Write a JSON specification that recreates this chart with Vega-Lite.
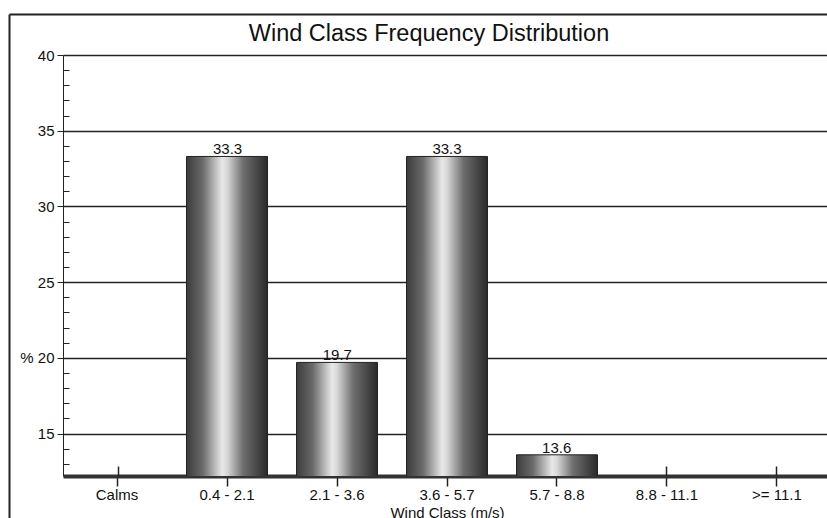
{
  "$schema": "https://vega.github.io/schema/vega-lite/v6.json",
  "autosize": "none",
  "width": 768,
  "height": 421,
  "padding": {"left": 63, "top": 55, "right": 0, "bottom": 42},
  "background": "white",
  "config": {
    "font": "Liberation Sans",
    "view": {"stroke": null},
    "axis": {"labelFont": "Liberation Sans", "titleFont": "Liberation Sans", "labelColor": "#111", "titleColor": "#111"}
  },
  "title": {
    "text": "Wind Class Frequency Distribution",
    "fontSize": 23.5,
    "fontWeight": "normal",
    "font": "Liberation Sans",
    "color": "#111",
    "anchor": "middle",
    "frame": "group",
    "dx": -18,
    "offset": -31
  },
  "data": {
    "values": [
      {"cls": "Calms", "pct": 0},
      {"cls": "0.4 - 2.1", "pct": 33.3},
      {"cls": "2.1 - 3.6", "pct": 19.7},
      {"cls": "3.6 - 5.7", "pct": 33.3},
      {"cls": "5.7 - 8.8", "pct": 13.6},
      {"cls": "8.8 - 11.1", "pct": 0},
      {"cls": ">= 11.1", "pct": 0}
    ]
  },
  "encoding": {
    "x": {
      "field": "cls",
      "type": "nominal",
      "sort": null,
      "scale": {"domain": ["Calms", "0.4 - 2.1", "2.1 - 3.6", "3.6 - 5.7", "5.7 - 8.8", "8.8 - 11.1", ">= 11.1"], "paddingInner": 0.264, "paddingOuter": 0.123}
    },
    "y": {
      "field": "pct",
      "type": "quantitative",
      "scale": {"domain": [12.2, 40], "zero": false, "nice": false}
    }
  },
  "layer": [
    {
      "transform": [{"filter": "datum.pct > 0"}],
      "mark": {
        "type": "bar",
        "clip": true,
        "stroke": "#222",
        "strokeWidth": 1,
        "fill": {
          "gradient": "linear",
          "x1": 0, "x2": 1, "y1": 0, "y2": 0,
          "stops": [
            {"offset": 0, "color": "#3c3c3c"},
            {"offset": 0.2, "color": "#6a6a6a"},
            {"offset": 0.44, "color": "#e8e8e8"},
            {"offset": 0.5, "color": "#d8d8d8"},
            {"offset": 0.7, "color": "#6e6e6e"},
            {"offset": 1, "color": "#2a2a2a"}
          ]
        }
      },
      "encoding": {
        "x": {
          "field": "cls",
          "type": "nominal",
          "sort": null,
          "axis": {
            "title": "Wind Class (m/s)",
            "titleFontSize": 15,
            "titleFontWeight": "normal",
            "titlePadding": 3,
            "labelFontSize": 15,
            "labelAngle": 0,
            "labelPadding": 1,
            "tickSize": 10,
            "tickColor": "#222",
            "tickWidth": 1.5,
            "domainColor": "#333",
            "domainWidth": 4,
            "grid": false
          }
        },
        "y": {
          "field": "pct",
          "type": "quantitative",
          "axis": {
            "title": null,
            "values": [15, 20, 25, 30, 35, 40],
            "labelExpr": "datum.value == 20 ? '% 20' : datum.label",
            "labelFontSize": 15,
            "labelPadding": 3,
            "tickSize": 6,
            "tickColor": "#222",
            "domainColor": "#222",
            "grid": true,
            "gridColor": "#222",
            "gridWidth": 1.3,
            "gridOpacity": 1
          }
        }
      }
    },
    {
      "transform": [{"filter": "datum.pct > 0"}],
      "mark": {"type": "text", "baseline": "alphabetic", "dy": -2, "fontSize": 15, "color": "#111", "font": "Liberation Sans"},
      "encoding": {
        "text": {"field": "pct", "type": "quantitative", "format": ".1f"},
        "x": {
          "field": "cls",
          "type": "nominal",
          "sort": null,
          "axis": {"orient": "bottom", "title": null, "labels": false, "domain": false, "grid": false, "tickSize": -10, "tickColor": "#222", "tickWidth": 1.5}
        },
        "y": {
          "field": "pct",
          "type": "quantitative",
          "axis": {
            "orient": "left",
            "title": null,
            "labels": false,
            "domain": false,
            "grid": false,
            "tickSize": -6,
            "tickColor": "#222",
            "values": [13, 14, 16, 17, 18, 19, 21, 22, 23, 24, 26, 27, 28, 29, 31, 32, 33, 34, 36, 37, 38, 39]
          }
        }
      }
    },
    {
      "transform": [{"filter": "false"}],
      "mark": {"type": "text"},
      "encoding": {
        "text": {"field": "cls", "type": "nominal"},
        "x": {
          "field": "pct",
          "type": "quantitative",
          "scale": {"domain": [0, 1], "range": [-54, 800], "nice": false, "zero": false},
          "axis": {"orient": "top", "offset": 41, "title": null, "labels": false, "ticks": false, "grid": false, "domain": true, "domainColor": "#222", "domainWidth": 2}
        },
        "y": {
          "field": "pct",
          "type": "quantitative",
          "scale": {"domain": [0, 1], "range": [470, -41], "nice": false, "zero": false},
          "axis": {"orient": "left", "offset": 54, "title": null, "labels": false, "ticks": false, "grid": false, "domain": true, "domainColor": "#222", "domainWidth": 2}
        }
      }
    }
  ],
  "resolve": {"axis": {"x": "independent", "y": "independent"}, "scale": {"x": "independent", "y": "independent"}}
}
